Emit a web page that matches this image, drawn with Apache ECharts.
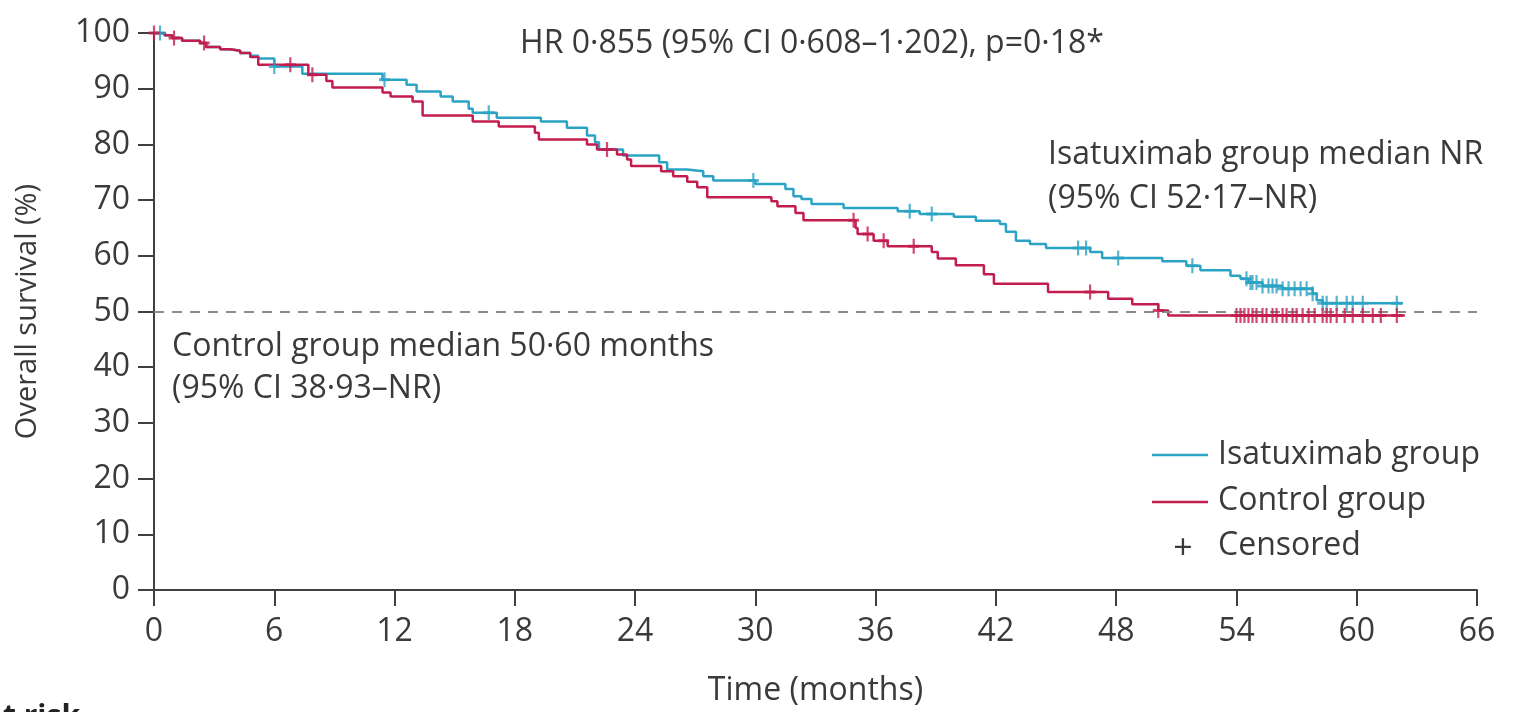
<!DOCTYPE html>
<html>
<head>
<meta charset="utf-8">
<script src="https://cdn.jsdelivr.net/npm/echarts@6/dist/echarts.min.js"></script>
<style>
html,body{margin:0;padding:0;background:#fff;}
#chart{width:1513px;height:712px;}
</style>
</head>
<body>
<div id="chart"></div>
<script>
// Kaplan–Meier steps: [month, overall survival %]
var isaSteps = [
  [0,100],[0.5,99.6],[0.9,99.1],[1.4,98.6],[2.3,98.2],[2.6,97.5],[3.3,97.1],[3.8,96.8],[4.3,96.4],[4.8,95.9],
  [5.2,95.4],[6.0,94.0],[7.4,92.7],[11.4,91.6],[12.6,90.7],[13.1,89.5],[14.3,88.6],[14.9,87.7],[15.7,86.4],
  [15.9,85.7],[17.1,84.8],[19.3,84.1],[20.6,83.0],[21.6,81.6],[22.0,80.4],[22.2,79.1],[23.4,78.0],
  [25.2,76.8],[25.6,75.5],[26.6,75.2],[27.4,74.3],[27.9,73.5],[30.0,72.9],[31.5,72.0],[31.9,70.7],[32.3,70.2],
  [32.8,69.3],[34.4,68.6],[37.1,68.0],[38.2,67.5],[39.9,67.0],[41.0,66.3],[42.2,65.7],[42.5,64.3],[43.0,62.7],
  [43.7,62.1],[44.5,61.4],[46.7,60.7],[47.3,59.6],[50.3,59.0],[51.5,58.2],[52.2,57.4],[53.7,56.4],[54.2,55.9],
  [54.6,55.2],[55.3,54.6],[56.3,54.1],[57.8,53.2],[58.0,52.0],[58.3,51.5],[62.3,51.5]
];
var ctlSteps = [
  [0,100],[0.55,99.6],[0.9,99.1],[1.4,98.6],[2.3,98.2],[2.6,97.5],[3.3,97.1],[3.8,96.8],[4.3,96.4],[4.8,95.7],
  [5.2,94.3],[7.7,92.5],[8.6,91.4],[8.9,90.2],[11.4,89.3],[11.8,88.6],[12.9,87.7],[13.4,85.2],[15.9,84.1],
  [17.2,83.2],[19.0,82.1],[19.2,80.9],[21.6,80.0],[22.1,79.1],[23.1,78.2],[23.6,77.3],[23.8,76.1],[25.3,75.2],
  [25.9,74.3],[26.6,73.3],[27.1,72.3],[27.6,70.5],[30.8,69.8],[31.1,68.9],[32.0,67.7],[32.4,66.4],[35.0,65.0],
  [35.1,63.9],[35.9,62.7],[36.6,61.7],[38.8,60.7],[39.1,59.5],[40.0,58.3],[41.4,56.7],[41.9,55.0],[44.6,53.5],
  [47.6,52.3],[48.8,51.3],[50.1,50.2],[50.6,49.3],[62.4,49.3]
];
// Censoring times (months)
var isaCensor = [0.3,6.0,11.5,16.7,29.9,37.7,38.8,46.1,46.5,48.1,51.8,54.5,54.7,54.8,55.0,55.3,55.6,55.8,56.0,
  56.3,56.6,56.9,57.2,57.5,57.8,58.3,58.5,59.0,59.5,59.8,60.3,62.0];
var ctlCensor = [0.0,1.0,2.5,6.8,7.9,22.6,34.9,35.6,36.4,37.9,46.7,50.1,54.0,54.2,54.4,54.6,54.8,55.0,55.3,55.5,
  55.8,56.0,56.3,56.5,56.8,57.0,57.3,57.6,57.9,58.3,58.5,58.7,59.0,59.4,59.8,60.3,60.8,61.2,62.0];
var xTicks = {min:0, max:66, interval:6};
var yTicks = {min:0, max:100, interval:10};
var medianLine = 50;

var CYAN = '#2ba3c4', RED = '#c31c4e', TXT = '#3a3a3a', AX = '#404040';
var FONT = '"Open Sans", sans-serif';
var FS = 32;

function survAt(steps, t){
  var v = steps[0][1];
  for (var i=0;i<steps.length;i++){ if (steps[i][0] <= t) v = steps[i][1]; else break; }
  return v;
}
var isaCensorPts = isaCensor.map(function(t){return [t, survAt(isaSteps,t)];});
var ctlCensorPts = ctlCensor.map(function(t){return [t, survAt(ctlSteps,t)];});

var PLUS = 'path://M4,0H6V4H10V6H6V10H4V6H0V4H4Z';

var chart = echarts.init(document.getElementById('chart'), null, {renderer:'canvas'});
chart.setOption({
  animation:false,
  backgroundColor:'#fff',
  grid:{left:154, right:36, top:33, bottom:119, containLabel:false},
  xAxis:{
    type:'value', min:xTicks.min, max:xTicks.max, interval:xTicks.interval,
    name:'Time (months)', nameLocation:'middle', nameGap:85,
    nameTextStyle:{fontFamily:FONT, fontSize:FS, color:TXT},
    axisLine:{show:true, onZero:false, lineStyle:{color:AX, width:2}},
    axisTick:{show:true, length:16, lineStyle:{color:AX, width:2}},
    axisLabel:{fontFamily:FONT, fontSize:32, color:TXT, margin:26},
    splitLine:{show:false}
  },
  yAxis:{
    type:'value', min:yTicks.min, max:yTicks.max, interval:yTicks.interval,
    name:'Overall survival (%)', nameLocation:'middle', nameGap:112, nameRotate:90,
    nameTextStyle:{fontFamily:FONT, fontSize:29, color:TXT},
    axisLine:{show:true, onZero:false, lineStyle:{color:AX, width:2}},
    axisTick:{show:true, length:16, lineStyle:{color:AX, width:2}},
    axisLabel:{fontFamily:FONT, fontSize:32, color:TXT, margin:24},
    splitLine:{show:false}
  },
  series:[
    {name:'Isatuximab group', type:'line', step:'end', data:isaSteps, symbol:'none',
     lineStyle:{color:CYAN, width:2.5}, z:3,
     markLine:{silent:true, symbol:'none', label:{show:false},
       lineStyle:{color:'#8a8a8a', width:2, type:[10,8]},
       data:[{yAxis:medianLine}]}},
    {name:'Control group', type:'line', step:'end', data:ctlSteps, symbol:'none',
     lineStyle:{color:RED, width:2.5}, z:4},
    {name:'Isatuximab censored', type:'scatter', data:isaCensorPts, symbol:PLUS, symbolSize:[11,15],
     itemStyle:{color:CYAN}, z:5},
    {name:'Control censored', type:'scatter', data:ctlCensorPts, symbol:PLUS, symbolSize:[11,15],
     itemStyle:{color:RED}, z:6}
  ],
  graphic:[
    {type:'text', x:812, y:44, style:{text:'HR 0·855 (95% CI 0·608–1·202), p=0·18*', font:FS+'px '+FONT, fill:TXT, textAlign:'center', textVerticalAlign:'middle'}},
    {type:'text', x:1048, y:155, style:{text:'Isatuximab group median NR', font:FS+'px '+FONT, fill:TXT, textVerticalAlign:'middle'}},
    {type:'text', x:1048, y:199, style:{text:'(95% CI 52·17–NR)', font:FS+'px '+FONT, fill:TXT, textVerticalAlign:'middle'}},
    {type:'text', x:172, y:347, style:{text:'Control group median 50·60 months', font:FS+'px '+FONT, fill:TXT, textVerticalAlign:'middle'}},
    {type:'text', x:172, y:389, style:{text:'(95% CI 38·93–NR)', font:FS+'px '+FONT, fill:TXT, textVerticalAlign:'middle'}},
    {type:'line', shape:{x1:1152, y1:455, x2:1208, y2:455}, style:{stroke:CYAN, lineWidth:2.5}},
    {type:'line', shape:{x1:1152, y1:502, x2:1208, y2:502}, style:{stroke:RED, lineWidth:2.5}},
    {type:'text', x:1218, y:455, style:{text:'Isatuximab group', font:FS+'px '+FONT, fill:TXT, textVerticalAlign:'middle'}},
    {type:'text', x:1218, y:501, style:{text:'Control group', font:FS+'px '+FONT, fill:TXT, textVerticalAlign:'middle'}},
    {type:'text', x:1183, y:549, style:{text:'+', font:'34px '+FONT, fill:TXT, textAlign:'center', textVerticalAlign:'middle'}},
    {type:'text', x:1218, y:546, style:{text:'Censored', font:FS+'px '+FONT, fill:TXT, textVerticalAlign:'middle'}},
    {type:'text', x:80, y:702, style:{text:'Number at risk', font:'bold 30px '+FONT, fill:'#222', textAlign:'right', textVerticalAlign:'top'}}
  ]
});
</script>
</body>
</html>
